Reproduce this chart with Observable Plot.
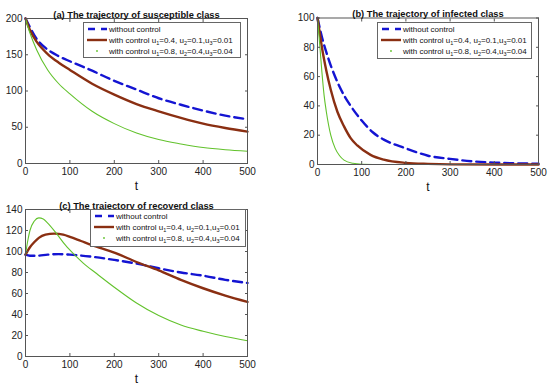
<!DOCTYPE html>
<html><head><meta charset="utf-8">
<script src="https://cdn.jsdelivr.net/npm/d3@7"></script>
<script src="https://cdn.jsdelivr.net/npm/@observablehq/plot@0.6"></script>
<style>
body{margin:0;background:#fff;}
#root{position:relative;width:550px;height:388px;font-family:"Liberation Sans",Arial,sans-serif;overflow:hidden;}
.panel{position:absolute;}
.legend{position:absolute;background:#fff;border:1px solid #666;font-size:8px;color:#111;box-sizing:border-box;}
.row{position:absolute;left:0;display:flex;align-items:center;white-space:nowrap;height:10px;}
.row svg{margin-left:3px;margin-right:2px;}
sub{font-size:5.5px;vertical-align:-2px;line-height:0;}
</style></head><body><div id="root"></div>
<script>
// ---- data ----
const seriesNames = ["without control", "with control u1=0.4, u2=0.1,u3=0.01", "with control u1=0.8, u2=0.4,u3=0.04"];
const xTicks = [0, 100, 200, 300, 400, 500];

// (a) susceptible
const aBlueT = [0,10,25,50,75,100,150,200,250,300,350,400,450,500];
const aBlueV = [200,188,172,157,148,141,128,114,102,90,81,73,66,61];
const aBrownT = [0,10,25,50,75,100,150,200,250,300,350,400,450,500];
const aBrownV = [200,184,168,151,139,129,110,95,82,72,63,55,49,44];
const aGreenT = [0,10,25,50,75,100,150,200,250,300,350,400,450,500];
const aGreenV = [200,180,157,129,110,96,72,55,42,33,27,22,19,17];
const aYTicks = [0,50,100,150,200];

// (b) infected
const bBlueT = [0,10,25,50,75,100,125,150,200,250,300,350,400,450,500];
const bBlueV = [100,87,72,53,40,30,22,17,11,6,3.8,2.2,1.3,0.8,0.5];
const bBrownT = [0,5,10,20,30,45,60,75,90,120,150,200,250,300,500];
const bBrownV = [100,90,80,64,51,36,26,18,13,6.6,3.3,1.1,0.4,0.1,0];
const bGreenT = [0,5,10,15,20,30,40,50,60,80,100,150,500];
const bGreenV = [100,82,63,47,36,20,11,6,3,0.8,0.2,0,0];
const bYTicks = [0,20,40,60,80,100];

// (c) recovered
const cBlueT = [0,10,25,50,75,100,150,200,250,300,350,400,450,500];
const cBlueV = [97,96,96,97,97.5,97,95,92,88.5,84,80,77,73,70];
const cBrownT = [0,10,20,30,45,65,85,100,125,150,200,250,300,350,400,450,500];
const cBrownV = [97,104,109,113,116,117,116,114,110,106,99,90,82,73,65,58,52];
const cGreenT = [0,5,10,20,30,40,50,70,90,110,130,160,200,250,300,350,400,450,500];
const cGreenV = [97,110,120,129,132,131,127,117,106,97,89,79,66,51,39,30,24,19,15];
const cYTicks = [0,20,40,60,80,100,120,140];

const colors = {blue: "#1414d2", brown: "#8a2f12", green: "#62c22c", axis: "#555"};
const FONT = '"Liberation Sans", Arial, sans-serif';

function pairs(T, V) { return T.map((t, i) => ({t, v: V[i]})); }

function panel(o) {
  const series = [
    {d: pairs(o.blue[0], o.blue[1]), stroke: colors.blue, strokeWidth: 2.4, dash: "9,5"},
    {d: pairs(o.brown[0], o.brown[1]), stroke: colors.brown, strokeWidth: 2.4, dash: null},
    {d: pairs(o.green[0], o.green[1]), stroke: colors.green, strokeWidth: 1.1, dash: null}
  ];
  const chart = Plot.plot({
    width: o.width, height: o.height,
    marginLeft: o.m[3], marginRight: o.m[1], marginTop: o.m[0], marginBottom: o.m[2],
    style: {fontFamily: FONT, background: "transparent", overflow: "visible", color: "#222"},
    x: {domain: [0, 500]},
    y: {domain: o.yDomain},
    marks: [
      ...series.map(s => Plot.line(s.d, {x: "t", y: "v", stroke: s.stroke, strokeWidth: s.strokeWidth, strokeDasharray: s.dash, curve: "monotone-x"})),
      Plot.frame({stroke: colors.axis}),
      Plot.axisX({ticks: xTicks, tickSize: -3, tickPadding: 7, label: null, fontSize: 10, stroke: colors.axis}),
      Plot.axisX({anchor: "top", ticks: xTicks, tickSize: -3, tickFormat: () => "", label: null, stroke: colors.axis}),
      Plot.axisY({ticks: o.yTicks, tickSize: -3, tickPadding: 6, label: null, fontSize: 10, stroke: colors.axis}),
      Plot.axisY({anchor: "right", ticks: o.yTicks, tickSize: -3, tickFormat: () => "", label: null, stroke: colors.axis}),
      Plot.text([o.title], {frameAnchor: "top", dy: o.titleDy, fontWeight: "bold", fontSize: 9.3, fill: "#111"}),
      Plot.text(["t"], {frameAnchor: "bottom", dy: 26, fontSize: 12, fill: "#111"})
    ]
  });
  const wrap = document.createElement("div");
  wrap.className = "panel";
  wrap.style.left = o.left + "px"; wrap.style.top = o.top + "px";
  wrap.appendChild(chart);
  document.getElementById("root").appendChild(wrap);

  // legend
  const lg = document.createElement("div");
  lg.className = "legend";
  const L = o.legend;
  lg.style.left = L[0] + "px"; lg.style.top = L[1] + "px"; lg.style.width = L[2] + "px"; lg.style.height = L[3] + "px";
  const samples = [
    `<svg width="20" height="6"><line x1="1" x2="20" y1="3" y2="3" stroke="${colors.blue}" stroke-width="2.4" stroke-dasharray="7,6"/></svg>`,
    `<svg width="20" height="6"><line x1="0" x2="20" y1="3" y2="3" stroke="${colors.brown}" stroke-width="2.4"/></svg>`,
    `<svg width="20" height="6"><circle cx="10" cy="3" r="0.9" fill="${colors.green}"/></svg>`
  ];
  const labels = seriesNames.map(s => s.replace(/u(\d)/g, "u<sub>$1</sub>"));
  const rowTops = [1, 12, 23];
  labels.forEach((lab, i) => {
    const r = document.createElement("div");
    r.className = "row";
    r.style.top = rowTops[i] + "px";
    r.innerHTML = samples[i] + `<span>${lab}</span>`;
    lg.appendChild(r);
  });
  document.getElementById("root").appendChild(lg);
}

panel({left: 0, top: 0, width: 275, height: 195, m: [18, 28, 32, 25], yDomain: [0, 200], yTicks: aYTicks,
  title: "(a) The trajectory of susceptible class", titleDy: -7.5,
  blue: [aBlueT, aBlueV], brown: [aBrownT, aBrownV], green: [aGreenT, aGreenV], legend: [83, 22, 158, 36]});
panel({left: 275, top: 0, width: 275, height: 195, m: [17.5, 12, 31, 42], yDomain: [0, 100], yTicks: bYTicks,
  title: "(b) The trajectory of infected class", titleDy: -7.5,
  blue: [bBlueT, bBlueV], brown: [bBrownT, bBrownV], green: [bGreenT, bGreenV], legend: [377, 22, 155, 37]});
panel({left: 0, top: 190, width: 275, height: 198, m: [19, 28, 32, 25], yDomain: [0, 140], yTicks: cYTicks,
  title: "(c) The trajectory of recoverd class", titleDy: -7.5,
  blue: [cBlueT, cBlueV], brown: [cBrownT, cBrownV], green: [cGreenT, cGreenV], legend: [90, 209, 156, 38]});
</script></body></html>
